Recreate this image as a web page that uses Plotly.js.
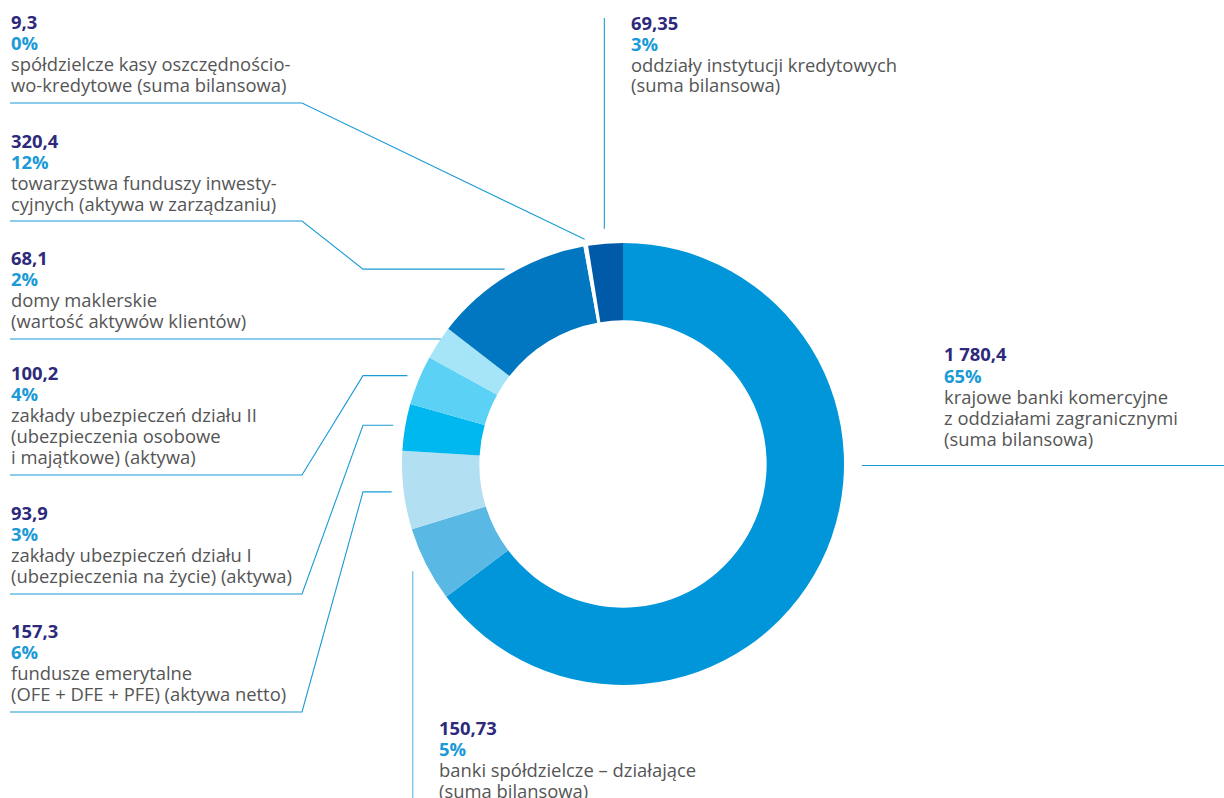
<!DOCTYPE html>
<html>
<head>
<meta charset="utf-8">
<script src="https://cdn.plot.ly/plotly-3.0.1.min.js"></script>
<style>
  html, body { margin: 0; padding: 0; background: #fff; }
  #chart { width: 1224px; height: 798px; }
</style>
</head>
<body>
<div id="chart"></div>
<script>
// data, clockwise from 12 o'clock
var values = [1780.4, 150.73, 157.3, 93.9, 100.2, 68.1, 320.4, 9.3, 69.35];
var names = [
  ['krajowe banki komercyjne', 'z oddziałami zagranicznymi', '(suma bilansowa)'],
  ['banki spółdzielcze – działające', '(suma bilansowa)'],
  ['fundusze emerytalne', '(OFE + DFE + PFE) (aktywa netto)'],
  ['zakłady ubezpieczeń działu I', '(ubezpieczenia na życie) (aktywa)'],
  ['zakłady ubezpieczeń działu II', '(ubezpieczenia osobowe', 'i majątkowe) (aktywa)'],
  ['domy maklerskie', '(wartość aktywów klientów)'],
  ['towarzystwa funduszy inwesty-', 'cyjnych (aktywa w zarządzaniu)'],
  ['spółdzielcze kasy oszczędnościo-', 'wo-kredytowe (suma bilansowa)'],
  ['oddziały instytucji kredytowych', '(suma bilansowa)']
];
var colors = ['#0096d9', '#5ab8e4', '#b3dff2', '#00b8f0', '#5bd1f5', '#a6e4f8', '#0077c0', '#ffffff', '#005aa8'];

var W = 1224, H = 798;
var cx = 623, cy = 464, R = 221;
var step = 21;

function px(x) { return x / W; }
function py(y) { return 1 - y / H; }

function fmt(v) {
  var parts = v.toString().split('.');
  parts[0] = parts[0].replace(/\B(?=(\d{3})+(?!\d))/g, ' ');
  return parts.join(',');
}

var total = values.reduce(function(a, b) { return a + b; }, 0);

// mid angle of each slice (degrees clockwise from top)
var mids = [];
var acc = 0;
for (var i = 0; i < values.length; i++) {
  mids.push((acc + values[i] / 2) / total * 360);
  acc += values[i];
}
function anchor(i, r) {
  var a = mids[i] * Math.PI / 180;
  return [cx + r * Math.sin(a), cy - r * Math.cos(a)];
}

// label placement: x, centre of first text line, underline y, line style
var place = [
  {x: 943, y: 354, kind: 'right'},
  {x: 438, y: 727, kind: 'down'},
  {x: 10, y: 630.5, line: 712, kind: 'elbow'},
  {x: 10, y: 512.5, line: 594, kind: 'elbow'},
  {x: 10, y: 372.5, line: 475, kind: 'elbow'},
  {x: 10, y: 257.5, line: 339, kind: 'flat'},
  {x: 10, y: 140.5, line: 221, kind: 'elbow'},
  {x: 10, y: 21.5, line: 103, kind: 'diag'},
  {x: 630, y: 22, kind: 'up'}
];

var annotations = [];
var shapes = [];
function addLine(x, y, text, bold, color) {
  annotations.push({
    xref: 'paper', yref: 'paper',
    x: px(x), y: py(y),
    xanchor: 'left', yanchor: 'middle', align: 'left',
    showarrow: false, borderpad: 0,
    font: {family: 'Open Sans, sans-serif', size: 18.4, color: color,
           weight: bold ? 'bold' : 'normal'},
    text: text
  });
}

for (var i = 0; i < values.length; i++) {
  var p = place[i];
  var pct = Math.round(values[i] / total * 100);
  addLine(p.x, p.y, fmt(values[i]), true, '#2d2a7b');
  addLine(p.x, p.y + step, pct + '%', true, '#1a9ad6');
  for (var k = 0; k < names[i].length; k++) {
    addLine(p.x, p.y + step * (k + 2), names[i][k], false, '#555555');
  }

  var path;
  if (p.kind === 'elbow') {
    var a = anchor(i, i === 6 ? 228 : 233);
    path = 'M' + px(10) + ',' + py(p.line) + ' L' + px(302) + ',' + py(p.line) +
           ' L' + px(363) + ',' + py(a[1]) + ' L' + px(a[0]) + ',' + py(a[1]);
  } else if (p.kind === 'flat') {
    var a = anchor(i, 218);
    path = 'M' + px(10) + ',' + py(p.line) + ' L' + px(a[0]) + ',' + py(p.line);
  } else if (p.kind === 'diag') {
    var a = anchor(i, 228);
    path = 'M' + px(10) + ',' + py(p.line) + ' L' + px(302) + ',' + py(p.line) +
           ' L' + px(a[0]) + ',' + py(a[1]);
  } else if (p.kind === 'up') {
    var a = anchor(i, 236);
    path = 'M' + px(a[0]) + ',' + py(18) + ' L' + px(a[0]) + ',' + py(a[1]);
  } else if (p.kind === 'down') {
    var a = anchor(i, 236);
    path = 'M' + px(a[0]) + ',' + py(a[1]) + ' L' + px(a[0]) + ',' + py(H);
  } else {
    path = 'M' + px(cx + R + 18) + ',' + py(cy + 1.5) + ' L' + px(W) + ',' + py(cy + 1.5);
  }
  shapes.push({
    type: 'path', xref: 'paper', yref: 'paper', path: path,
    line: {color: p.kind === 'down' ? '#5ab8e4' : '#1a9ad6', width: 1.1}
  });
}

var trace = {
  type: 'pie',
  values: values,
  labels: names.map(function(n) { return n.join(' '); }),
  marker: {colors: colors, line: {width: 0}},
  hole: 0.65,
  sort: false,
  direction: 'clockwise',
  rotation: 0,
  textinfo: 'none',
  hoverinfo: 'skip',
  domain: {x: [px(cx - R), px(cx + R)], y: [py(cy + R), py(cy - R)]}
};

var layout = {
  width: W, height: H,
  margin: {l: 0, r: 0, t: 0, b: 0},
  paper_bgcolor: '#ffffff',
  showlegend: false,
  annotations: annotations,
  shapes: shapes
};

Plotly.newPlot('chart', [trace], layout, {displayModeBar: false, staticPlot: true});
</script>
</body>
</html>
